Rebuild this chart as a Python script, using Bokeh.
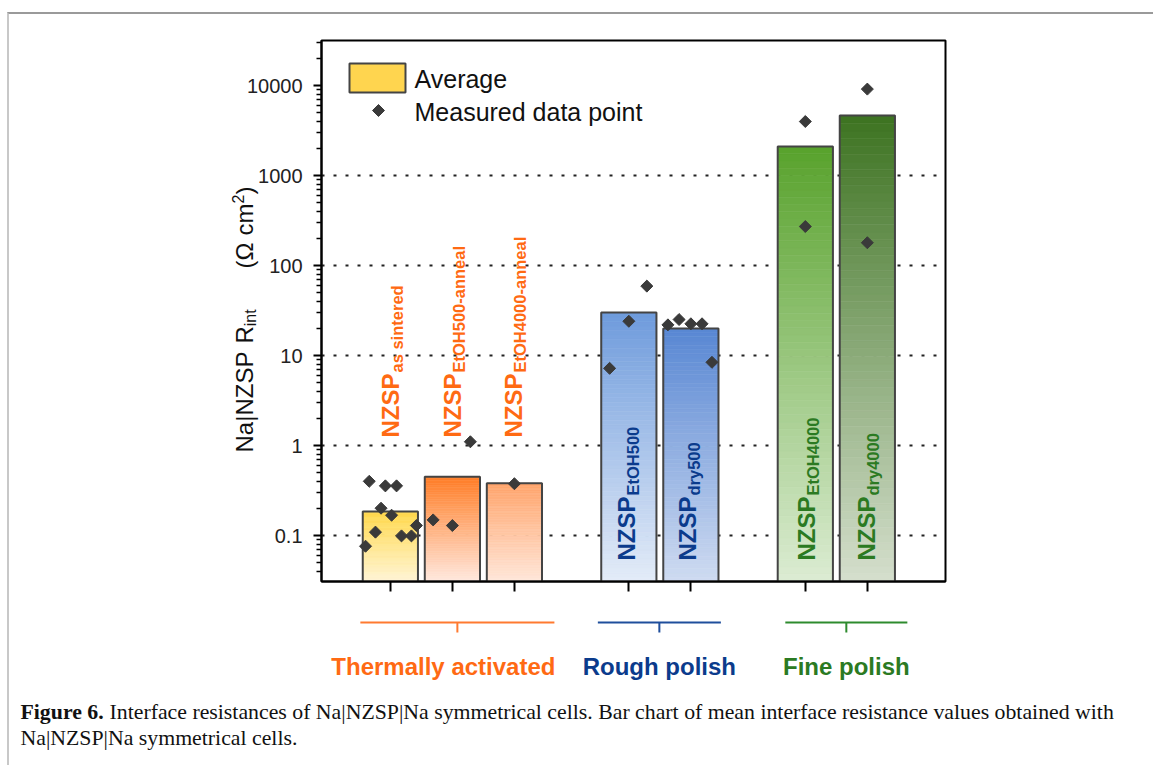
import math
import numpy as np
from bokeh.plotting import figure
from bokeh.layouts import column, row
from bokeh.models import Range1d, FixedTicker, Label, ColumnDataSource
from bokeh.embed import file_html
from bokeh.resources import INLINE

# ---------------- data ----------------
sample_names = ["as sintered", "EtOH500-anneal", "EtOH4000-anneal",
                "EtOH500", "dry500", "EtOH4000", "dry4000"]
group_names = ["Thermally activated", "Rough polish", "Fine polish"]
sample_group = [0, 0, 0, 1, 1, 2, 2]
average_values = [0.185, 0.45, 0.38, 30.0, 20.0, 2100.0, 4650.0]

point_sample = [0] * 10 + [1] * 3 + [2] + [3] * 3 + [4] * 5 + [5] * 2 + [6] * 2
point_values = [0.40, 0.356, 0.356, 0.201, 0.168, 0.109, 0.076, 0.099, 0.099, 0.129,
                1.10, 0.149, 0.129,
                0.376,
                59.0, 24.0, 7.2,
                21.9, 25.1, 22.5, 22.5, 8.4,
                3980.0, 271.0,
                9120.0, 179.0]
point_jitter = [-0.34, -0.08, 0.10, -0.15, 0.02, -0.24, -0.40, 0.18, 0.34, 0.42,
                0.29, -0.31, 0.0,
                0.0,
                0.29, 0.0, -0.31,
                -0.37, -0.19, 0.0, 0.18, 0.34,
                0.0, 0.0,
                0.0, 0.0]

y_ticks = [0.1, 1, 10, 100, 1000, 10000]
y_tick_labels = ["0.1", "1", "10", "100", "1000", "10000"]
grid_ticks = [0.1, 1, 10, 100, 1000]

# ---------------- styles ----------------
bar_top_colors = ["#FFD84A", "#FF7D26", "#FFA46B", "#6E9BDC", "#5887D3", "#58A22C", "#3D7321"]
bar_bottom_colors = ["#FFF5D6", "#FFE9DF", "#FFE7DA", "#E4ECF8", "#CFDBF1", "#DCECD3", "#D5DFCD"]
group_text_colors = ["#FF6A13", "#0B3B8C", "#2B7A22"]
group_line_colors = ["#FF7A30", "#1F4E9C", "#2E8B2E"]

FONT = "Liberation Sans"
SERIF = "Liberation Serif"

# ---------------- layout geometry (page pixels) ----------------
OX, OY = 9, 14        # content origin inside the page border
PAGE_R = 1150
LEFT_R = 305          # right edge of the left column (tick labels, axis title)
ROW_B = 601           # bottom of the plot row
PAGE_B = 765
FL, FR, FT, FB = 321, 945, 40, 581
GAP = 0.845
BAR_W = 0.89

xpos = [i + GAP * g for i, g in enumerate(sample_group)]
X_START = xpos[0] - 1.11
X_END = xpos[-1] + 1.26
PPU = (FR - FL) / (X_END - X_START)

LOG_TOP = 4.5
PPD = 90.0
LOG_BOT = LOG_TOP - (FB - FT) / PPD
Y_START, Y_END = 10 ** LOG_BOT, 10 ** LOG_TOP


def X(px):
    return X_START + (px - FL) / PPU


def Y(py):
    return 10 ** (LOG_TOP - (py - FT) / PPD)


def px_of_x(x):
    return FL + (x - X_START) * PPU


def blank(fig):
    fig.outline_line_color = None
    fig.grid.visible = False
    fig.background_fill_color = "white"
    fig.border_fill_color = "white"
    return fig


def lab(fig, x, y, text, size, color="#111111", bold=False, angle=0.0, align="left",
        font=FONT):
    fig.add_layout(Label(x=x, y=y, text=text, angle=angle, text_font=font,
                         text_font_size="%gpx" % size, text_color=color,
                         text_font_style="bold" if bold else "normal",
                         text_align=align, text_baseline="middle"))


yr = Range1d(Y_START, Y_END)
ROW_H = ROW_B - OY

# ================= main plot =================
p = figure(width=PAGE_R - LEFT_R, height=ROW_H, y_axis_type="log",
           x_range=Range1d(X_START, X_END), y_range=yr,
           output_backend="svg", toolbar_location=None,
           min_border_left=FL - LEFT_R, min_border_right=PAGE_R - FR,
           min_border_top=FT - OY, min_border_bottom=ROW_B - FB)
p.background_fill_color = "white"
p.border_fill_color = "white"
p.outline_line_color = "black"
p.outline_line_width = 2

minor = []
for d in range(-2, 5):
    for k in range(2, 10):
        v = k * 10.0 ** d
        if Y_START < v < Y_END:
            minor.append(v)
p.yaxis.ticker = FixedTicker(ticks=y_ticks, minor_ticks=minor)
p.yaxis.major_label_text_color = None
p.yaxis.major_label_text_font_size = "1px"
p.yaxis.major_label_standoff = 0
p.yaxis.major_tick_in = 0
p.yaxis.major_tick_out = 8
p.yaxis.minor_tick_in = 0
p.yaxis.minor_tick_out = 5
p.yaxis.major_tick_line_width = 2
p.yaxis.minor_tick_line_width = 1.5
p.yaxis.axis_line_width = 2

p.xaxis.ticker = FixedTicker(ticks=xpos)
p.xaxis.major_label_text_color = None
p.xaxis.major_label_text_font_size = "1px"
p.xaxis.major_label_standoff = 0
p.xaxis.major_tick_in = 0
p.xaxis.major_tick_out = 10
p.xaxis.major_tick_line_width = 2
p.xaxis.minor_tick_line_color = None
p.xaxis.axis_line_width = 2

p.xgrid.visible = False
p.ygrid.ticker = FixedTicker(ticks=grid_ticks)
p.ygrid.grid_line_color = "#222222"
p.ygrid.grid_line_width = 2
p.ygrid.grid_line_dash = "3 9"


def hex2rgb(h):
    h = h.lstrip("#")
    return [int(h[i:i + 2], 16) for i in (0, 2, 4)]


# gradient bars
N = 60
gl, gr, gb, gt, gc = [], [], [], [], []
for i, v in enumerate(average_values):
    edges = np.linspace(LOG_BOT, math.log10(v), N + 1)
    c0 = np.array(hex2rgb(bar_bottom_colors[i]), float)
    c1 = np.array(hex2rgb(bar_top_colors[i]), float)
    for k in range(N):
        t = (k + 0.5) / N
        c = c0 + (c1 - c0) * t
        gl.append(xpos[i] - BAR_W / 2)
        gr.append(xpos[i] + BAR_W / 2)
        gb.append(10 ** edges[k])
        gt.append(10 ** edges[k + 1])
        gc.append("#%02x%02x%02x" % tuple(int(round(x)) for x in c))
p.quad(left=gl, right=gr, bottom=gb, top=gt, fill_color=gc, line_color=gc, line_width=0.6)
p.vbar(x=xpos, top=average_values, bottom=Y_START, width=BAR_W,
       fill_color=None, line_color="#444444", line_width=2)

# data points
pts = ColumnDataSource(dict(x=[xpos[s] + j for s, j in zip(point_sample, point_jitter)],
                            y=point_values))
p.scatter("x", "y", source=pts, marker="square", angle=math.pi / 4, size=8.5,
          fill_color="#3A3A3A", line_color="#3A3A3A")

# legend (manual)
p.quad(left=[X(349)], right=[X(405)], top=[Y(63)], bottom=[Y(92)],
       fill_color="#FFD54F", line_color="#444444", line_width=2)
p.scatter([X(378)], [Y(110)], marker="square", angle=math.pi / 4, size=8.5,
          fill_color="#3A3A3A", line_color="#3A3A3A")
lab(p, X(414), Y(78), "Average", 25)
lab(p, X(414), Y(111), "Measured data point", 25)

# bar labels (rotated); anchor = centre line of the capitals
label_start_py = [437, 560, 560]
label_center_dx = [0, 0.5, -1, -2, -3.5, 1, -0.5]
MAIN_FS, SUB_FS = 24, 16.5
NZSP_LEN = 2.667 * MAIN_FS
for i, name in enumerate(sample_names):
    g = sample_group[i]
    col = group_text_colors[g]
    cpx = px_of_x(xpos[i]) + label_center_dx[i]
    y0 = label_start_py[g]
    lab(p, X(cpx), Y(y0), "NZSP", MAIN_FS, col, bold=True, angle=math.pi / 2)
    lab(p, X(cpx + 6.6), Y(y0 - NZSP_LEN - 1), name, SUB_FS, col, bold=True, angle=math.pi / 2)

# ================= left column: tick labels + axis title =================
pl = blank(figure(width=LEFT_R - OX, height=ROW_H, y_axis_type="log",
                  x_range=Range1d(OX, LEFT_R), y_range=yr,
                  output_backend="svg", toolbar_location=None,
                  x_axis_location=None, y_axis_location=None,
                  min_border_left=0, min_border_right=0,
                  min_border_top=FT - OY, min_border_bottom=ROW_B - FB))
for t, tl in zip(y_ticks, y_tick_labels):
    lab(pl, 302, t, tl, 20, "#222222", align="right")

# axis title "Na|NZSP  R_int  (Ω cm²)" assembled from pieces (widths in px)
YC = 243.5
title_pieces = [  # text, font size, baseline shift, advance
    ("Na|NZSP", 24, 0.0, 102.0),
    ("R", 24, 0.0, 17.3),
    ("int", 16, 6.5, 44.0),
    ("(Ω", 24, 0.0, 33.1),
    ("cm", 24, 0.0, 32.0),
    ("2", 16, -6.5, 8.9),
    (")", 24, 0.0, 8.0),
]
cur = 452.0
for txt, fs, sh, adv in title_pieces:
    if txt == "R":
        cur = 343.0
    lab(pl, YC + sh, Y(cur), txt, fs, angle=math.pi / 2)
    cur -= adv
    if txt == "int":
        cur = 268.0

# ================= bottom strip: group brackets + caption =================
pb = blank(figure(width=PAGE_R - OX, height=PAGE_B - ROW_B, x_range=Range1d(X(OX), X(PAGE_R)),
                  y_range=Range1d(PAGE_B, ROW_B),
                  output_backend="svg", toolbar_location=None,
                  x_axis_location=None, y_axis_location=None,
                  min_border_left=0, min_border_right=0, min_border_top=0, min_border_bottom=0))

bracket_pad_px = [(-30, 40), (-31, 30), (-20, 40)]
label_shift_px = [-14, 0, 0]
BR_Y, BR_TICK = 622, 632
for g, gname in enumerate(group_names):
    idx = [i for i, s in enumerate(sample_group) if s == g]
    xl = xpos[idx[0]] + bracket_pad_px[g][0] / PPU
    xr = xpos[idx[-1]] + bracket_pad_px[g][1] / PPU
    xm = (xl + xr) / 2
    lc = group_line_colors[g]
    pb.segment(x0=[xl, xm], x1=[xr, xm], y0=[BR_Y, BR_Y], y1=[BR_Y, BR_TICK],
               line_color=lc, line_width=2)
    lab(pb, xm + label_shift_px[g] / PPU, 666, gname, 24, group_text_colors[g], bold=True,
        align="center")

CAP_FS = 21.8
cap_bold = "Figure 6."
cap_line1 = "Interface resistances of Na|NZSP|Na symmetrical cells. Bar chart of mean interface resistance values obtained with"
cap_line2 = "Na|NZSP|Na symmetrical cells."
lab(pb, X(20), 711, cap_bold, CAP_FS, bold=True, font=SERIF)
lab(pb, X(20 + (3833 + 250) / 1000 * CAP_FS), 711, cap_line1, CAP_FS, font=SERIF)
lab(pb, X(20), 737, cap_line2, CAP_FS, font=SERIF)

layout = column(row(pl, p, spacing=0), pb, spacing=0,
                styles={"border-top": "2px solid #9A9A9A",
                        "border-left": "2px solid #C8C8C8",
                        "margin-left": "%dpx" % (OX - 2),
                        "margin-top": "%dpx" % (OY - 2),
                        "padding-right": "3px"})
open("out.html", "w").write(file_html(layout, INLINE))
